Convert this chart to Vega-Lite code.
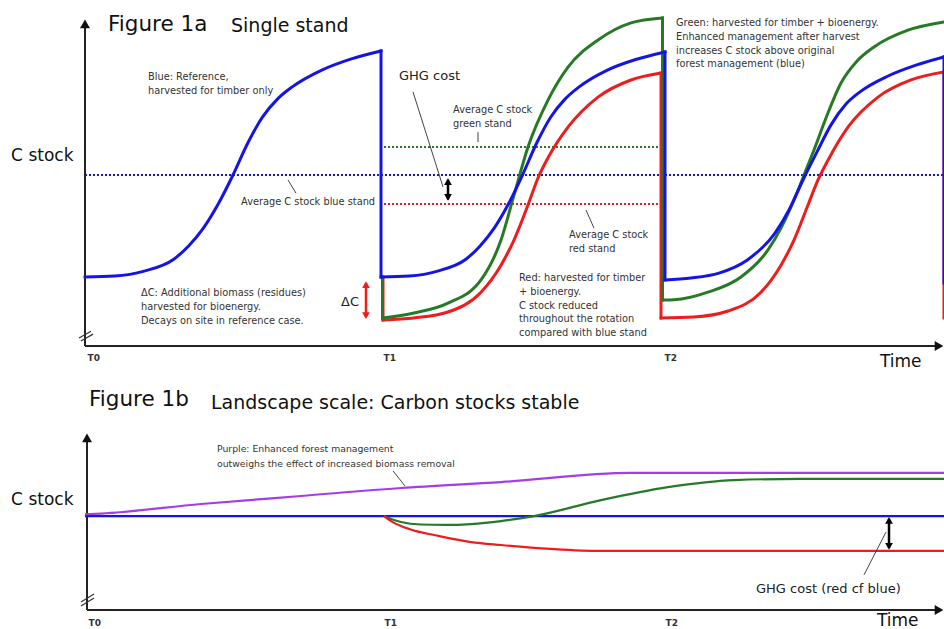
{
  "$schema": "https://vega.github.io/schema/vega-lite/v6.json",
  "background": "white",
  "padding": {"left": 10, "top": 10, "right": 0, "bottom": 0},
  "spacing": 13,
  "config": {
    "view": {"stroke": null},
    "font": "DejaVu Sans",
    "axis": {"grid": false, "domain": false, "ticks": false, "labelFont": "DejaVu Sans", "titleFont": "DejaVu Sans", "titleFontWeight": "normal", "titleColor": "#111", "labelColor": "#333"},
    "text": {"font": "DejaVu Sans"}
  },
  "datasets": {
    "stand": [
      {"s": "blue", "g": "b1", "x": 0, "c": 19.1}, {"s": "blue", "g": "b1", "x": 2.96, "c": 19.4}, {"s": "blue", "g": "b1", "x": 5.92, "c": 20.9}, {"s": "blue", "g": "b1", "x": 8.88, "c": 24.5}, {"s": "blue", "g": "b1", "x": 10.36, "c": 28.5}, {"s": "blue", "g": "b1", "x": 11.84, "c": 33.9}, {"s": "blue", "g": "b1", "x": 13.32, "c": 41.2}, {"s": "blue", "g": "b1", "x": 14.8, "c": 50.0}, {"s": "blue", "g": "b1", "x": 16.28, "c": 59.7}, {"s": "blue", "g": "b1", "x": 17.76, "c": 67.6}, {"s": "blue", "g": "b1", "x": 19.24, "c": 73.0}, {"s": "blue", "g": "b1", "x": 20.72, "c": 76.7}, {"s": "blue", "g": "b1", "x": 23.68, "c": 81.8}, {"s": "blue", "g": "b1", "x": 26.64, "c": 85.2}, {"s": "blue", "g": "b1", "x": 29.6, "c": 87.6},
      {"s": "blue", "g": "bd1", "x": 29.6, "c": 87.6}, {"s": "blue", "g": "bd1", "x": 29.6, "c": 19.1},
      {"s": "blue", "g": "b2", "x": 29.6, "c": 19.1}, {"s": "blue", "g": "b2", "x": 32.43, "c": 19.4}, {"s": "blue", "g": "b2", "x": 35.26, "c": 20.9}, {"s": "blue", "g": "b2", "x": 38.09, "c": 24.5}, {"s": "blue", "g": "b2", "x": 39.51, "c": 28.5}, {"s": "blue", "g": "b2", "x": 40.92, "c": 33.9}, {"s": "blue", "g": "b2", "x": 42.34, "c": 41.2}, {"s": "blue", "g": "b2", "x": 43.75, "c": 50.0}, {"s": "blue", "g": "b2", "x": 45.17, "c": 59.7}, {"s": "blue", "g": "b2", "x": 46.58, "c": 67.6}, {"s": "blue", "g": "b2", "x": 48.0, "c": 73.0}, {"s": "blue", "g": "b2", "x": 49.41, "c": 76.7}, {"s": "blue", "g": "b2", "x": 52.24, "c": 81.8}, {"s": "blue", "g": "b2", "x": 55.07, "c": 85.0}, {"s": "blue", "g": "b2", "x": 58.0, "c": 87.3},
      {"s": "blue", "g": "bd2", "x": 58.0, "c": 87.3}, {"s": "blue", "g": "bd2", "x": 58.0, "c": 18.2},
      {"s": "blue", "g": "b3", "x": 58.0, "c": 18.2}, {"s": "blue", "g": "b3", "x": 60.6, "c": 18.8}, {"s": "blue", "g": "b3", "x": 63.4, "c": 20.3}, {"s": "blue", "g": "b3", "x": 66.2, "c": 24.2}, {"s": "blue", "g": "b3", "x": 69.0, "c": 32.4}, {"s": "blue", "g": "b3", "x": 70.4, "c": 39.4}, {"s": "blue", "g": "b3", "x": 71.8, "c": 48.5}, {"s": "blue", "g": "b3", "x": 73.2, "c": 57.0}, {"s": "blue", "g": "b3", "x": 74.6, "c": 65.2}, {"s": "blue", "g": "b3", "x": 76.1, "c": 71.5}, {"s": "blue", "g": "b3", "x": 77.5, "c": 75.2}, {"s": "blue", "g": "b3", "x": 80.3, "c": 80.0}, {"s": "blue", "g": "b3", "x": 83.1, "c": 83.3}, {"s": "blue", "g": "b3", "x": 85.9, "c": 85.8},
      {"s": "blue", "g": "bd3", "x": 85.9, "c": 85.8}, {"s": "blue", "g": "bd3", "x": 85.9, "c": 17.3},
      {"s": "green", "g": "gd1", "x": 29.75, "c": 19.1}, {"s": "green", "g": "gd1", "x": 29.75, "c": 6.7},
      {"s": "green", "g": "g2", "x": 29.75, "c": 6.7}, {"s": "green", "g": "g2", "x": 32.9, "c": 8.2}, {"s": "green", "g": "g2", "x": 36.3, "c": 11.2}, {"s": "green", "g": "g2", "x": 39.6, "c": 18.2}, {"s": "green", "g": "g2", "x": 41.6, "c": 30.3}, {"s": "green", "g": "g2", "x": 42.9, "c": 43.9}, {"s": "green", "g": "g2", "x": 44.3, "c": 58.5}, {"s": "green", "g": "g2", "x": 46.3, "c": 72.7}, {"s": "green", "g": "g2", "x": 48.3, "c": 82.7}, {"s": "green", "g": "g2", "x": 51.3, "c": 90.9}, {"s": "green", "g": "g2", "x": 54.6, "c": 96.1}, {"s": "green", "g": "g2", "x": 57.75, "c": 97.6},
      {"s": "green", "g": "gd2", "x": 57.75, "c": 97.6}, {"s": "green", "g": "gd2", "x": 57.75, "c": 12.1},
      {"s": "green", "g": "g3", "x": 57.75, "c": 12.1}, {"s": "green", "g": "g3", "x": 58.9, "c": 12.2}, {"s": "green", "g": "g3", "x": 62.3, "c": 14.5}, {"s": "green", "g": "g3", "x": 65.6, "c": 19.1}, {"s": "green", "g": "g3", "x": 68.3, "c": 27.3}, {"s": "green", "g": "g3", "x": 69.6, "c": 33.9}, {"s": "green", "g": "g3", "x": 71.1, "c": 43.9}, {"s": "green", "g": "g3", "x": 72.1, "c": 51.5}, {"s": "green", "g": "g3", "x": 72.9, "c": 57.6}, {"s": "green", "g": "g3", "x": 74.1, "c": 67.3}, {"s": "green", "g": "g3", "x": 75.6, "c": 77.9}, {"s": "green", "g": "g3", "x": 77.1, "c": 84.2}, {"s": "green", "g": "g3", "x": 78.9, "c": 88.8}, {"s": "green", "g": "g3", "x": 82.3, "c": 93.9}, {"s": "green", "g": "g3", "x": 85.9, "c": 96.4},
      {"s": "red", "g": "rd1", "x": 29.8, "c": 19.1}, {"s": "red", "g": "rd1", "x": 29.8, "c": 6.1},
      {"s": "red", "g": "r2", "x": 29.8, "c": 6.1}, {"s": "red", "g": "r2", "x": 32.9, "c": 6.7}, {"s": "red", "g": "r2", "x": 36.3, "c": 8.5}, {"s": "red", "g": "r2", "x": 39.6, "c": 14.5}, {"s": "red", "g": "r2", "x": 41.6, "c": 22.7}, {"s": "red", "g": "r2", "x": 42.9, "c": 30.3}, {"s": "red", "g": "r2", "x": 44.3, "c": 40.9}, {"s": "red", "g": "r2", "x": 45.3, "c": 49.1}, {"s": "red", "g": "r2", "x": 46.3, "c": 55.2}, {"s": "red", "g": "r2", "x": 48.3, "c": 64.5}, {"s": "red", "g": "r2", "x": 51.3, "c": 73.6}, {"s": "red", "g": "r2", "x": 54.6, "c": 78.8}, {"s": "red", "g": "r2", "x": 57.6, "c": 80.9},
      {"s": "red", "g": "rd2", "x": 57.6, "c": 80.9}, {"s": "red", "g": "rd2", "x": 57.6, "c": 6.7},
      {"s": "red", "g": "r3", "x": 57.6, "c": 6.7}, {"s": "red", "g": "r3", "x": 60.9, "c": 7.0}, {"s": "red", "g": "r3", "x": 64.3, "c": 8.8}, {"s": "red", "g": "r3", "x": 67.6, "c": 14.5}, {"s": "red", "g": "r3", "x": 69.6, "c": 22.7}, {"s": "red", "g": "r3", "x": 70.9, "c": 30.3}, {"s": "red", "g": "r3", "x": 72.3, "c": 40.9}, {"s": "red", "g": "r3", "x": 73.3, "c": 48.5}, {"s": "red", "g": "r3", "x": 74.3, "c": 54.5}, {"s": "red", "g": "r3", "x": 76.3, "c": 64.5}, {"s": "red", "g": "r3", "x": 79.3, "c": 73.6}, {"s": "red", "g": "r3", "x": 82.6, "c": 78.8}, {"s": "red", "g": "r3", "x": 85.9, "c": 81.2},
      {"s": "red", "g": "rd3", "x": 85.9, "c": 81.2}, {"s": "red", "g": "rd3", "x": 85.9, "c": 6.7}
    ],
    "stand_avg": [
      {"s": "blue", "x": 0, "x2": 86, "c": 50.0},
      {"s": "green", "x": 29.9, "x2": 57.5, "c": 58.5},
      {"s": "red", "x": 29.9, "x2": 57.5, "c": 41.2}
    ],
    "stand_lines": [
      {"k": "axis", "x": 0, "x2": 0, "c": -1.8, "c2": 95},
      {"k": "axis", "x": 0, "x2": 85.2, "c": -1.8, "c2": -1.8},
      {"k": "brk", "x": -0.6, "x2": 0.6, "c": 0.6, "c2": 2.7},
      {"k": "brk", "x": -0.4, "x2": 0.8, "c": -0.3, "c2": 1.8},
      {"k": "lead", "x": 32.8, "x2": 35.8, "c": 75.2, "c2": 46.4},
      {"k": "lead", "x": 39.3, "x2": 39.3, "c": 63.0, "c2": 60.0},
      {"k": "lead", "x": 20.3, "x2": 21.1, "c": 48.5, "c2": 44.5},
      {"k": "lead", "x": 50.1, "x2": 50.9, "c": 39.4, "c2": 33.9},
      {"k": "ghg", "x": 36.3, "x2": 36.3, "c": 48.6, "c2": 42.6},
      {"k": "dc", "x": 28.1, "x2": 28.1, "c": 17.3, "c2": 7.0}
    ],
    "stand_heads": [
      {"k": "axis", "dir": "up", "x": 0, "c": 95.8},
      {"k": "axis", "dir": "right", "x": 85.4, "c": -1.8},
      {"k": "ghg", "dir": "up", "x": 36.3, "c": 48.0},
      {"k": "ghg", "dir": "down", "x": 36.3, "c": 43.2},
      {"k": "dc", "dir": "up", "x": 28.1, "c": 16.8},
      {"k": "dc", "dir": "down", "x": 28.1, "c": 7.4}
    ],
    "stand_notes": [
      {"x": 6.3, "c": 81.2, "t": "Blue: Reference,\nharvested for timber only"},
      {"x": 15.6, "c": 43.3, "t": "Average C stock blue stand"},
      {"x": 36.8, "c": 71.2, "t": "Average C stock\ngreen stand"},
      {"x": 48.4, "c": 33.3, "t": "Average C stock\nred  stand"},
      {"x": 43.4, "c": 20.3, "t": "Red: harvested for timber\n+ bioenergy.\nC stock reduced\nthroughout the rotation\ncompared with blue stand"},
      {"x": 59.1, "c": 97.6, "t": "Green: harvested for timber + bioenergy.\nEnhanced management after harvest\nincreases C stock above original\nforest management (blue)"},
      {"x": 5.6, "c": 15.8, "t": "ΔC: Additional biomass (residues)\nharvested for bioenergy.\nDecays on site in reference case."}
    ],
    "stand_mid": [
      {"x": 31.4, "c": 80.0, "t": "GHG cost"},
      {"x": 25.6, "c": 11.5, "t": "ΔC"}
    ],
    "land": [
      {"s": "blue", "x": 0, "c": 41.2}, {"s": "blue", "x": 86, "c": 41.2},
      {"s": "purple", "x": 0, "c": 42.0}, {"s": "purple", "x": 1.6, "c": 42.3}, {"s": "purple", "x": 11.6, "c": 46.5}, {"s": "purple", "x": 21.6, "c": 50.0}, {"s": "purple", "x": 31.6, "c": 53.5}, {"s": "purple", "x": 41.6, "c": 56.1}, {"s": "purple", "x": 54.6, "c": 60.1}, {"s": "purple", "x": 86, "c": 60.1},
      {"s": "green", "x": 29.9, "c": 41.2}, {"s": "green", "x": 30.6, "c": 39.9}, {"s": "green", "x": 31.6, "c": 38.6}, {"s": "green", "x": 33.6, "c": 37.5}, {"s": "green", "x": 36.1, "c": 37.3}, {"s": "green", "x": 38.6, "c": 37.7}, {"s": "green", "x": 41.6, "c": 39.0}, {"s": "green", "x": 44.9, "c": 41.2}, {"s": "green", "x": 51.6, "c": 48.2}, {"s": "green", "x": 58.3, "c": 53.9}, {"s": "green", "x": 64.9, "c": 57.0}, {"s": "green", "x": 71.6, "c": 57.5}, {"s": "green", "x": 86, "c": 57.5},
      {"s": "red", "x": 29.9, "c": 41.2}, {"s": "red", "x": 30.6, "c": 39.0}, {"s": "red", "x": 31.6, "c": 36.8}, {"s": "red", "x": 33.1, "c": 34.6}, {"s": "red", "x": 34.9, "c": 32.9}, {"s": "red", "x": 38.6, "c": 29.8}, {"s": "red", "x": 41.6, "c": 28.5}, {"s": "red", "x": 46.6, "c": 26.8}, {"s": "red", "x": 51.6, "c": 25.9}, {"s": "red", "x": 86, "c": 25.9}
    ],
    "land_lines": [
      {"k": "axis", "x": 0.2, "x2": 0.2, "c": 0, "c2": 75},
      {"k": "axis", "x": 0.2, "x2": 85.2, "c": 0, "c2": 0},
      {"k": "brk", "x": -0.4, "x2": 0.9, "c": 3.5, "c2": 7.0},
      {"k": "brk", "x": -0.4, "x2": 0.9, "c": 1.75, "c2": 5.3},
      {"k": "lead", "x": 30.8, "x2": 32.0, "c": 61.0, "c2": 54.4},
      {"k": "lead", "x": 80.1, "x2": 77.9, "c": 34.2, "c2": 15.4},
      {"k": "ghg", "x": 80.4, "x2": 80.4, "c": 39.9, "c2": 27.2}
    ],
    "land_heads": [
      {"k": "axis", "dir": "up", "x": 0.2, "c": 75.5},
      {"k": "axis", "dir": "right", "x": 85.4, "c": 0},
      {"k": "ghg", "dir": "up", "x": 80.4, "c": 39.3},
      {"k": "ghg", "dir": "down", "x": 80.4, "c": 27.9}
    ],
    "land_notes": [
      {"x": 13.2, "c": 72.4, "t": "Purple: Enhanced forest management\noutweighs the effect of increased biomass removal"}
    ],
    "land_mid": [
      {"x": 67.1, "c": 9.2, "t": "GHG cost (red cf blue)"}
    ]
  },
  "vconcat": [
    {
      "width": 860,
      "height": 336,
      "encoding": {
        "x": {"field": "x", "type": "quantitative", "scale": {"domain": [0, 86], "nice": false, "zero": false},
          "axis": {"values": [0, 29.6, 57.7], "labelExpr": "datum.value < 10 ? 'T0' : (datum.value < 40 ? 'T1' : 'T2')", "labelAlign": "left", "labelOffset": 2, "labelPadding": 7, "labelFontSize": 9, "labelFontWeight": "bold", "title": "Time", "titleFontSize": 17, "titleAlign": "right", "titleBaseline": "middle", "titleX": 836, "titleY": 15}},
        "y": {"field": "c", "type": "quantitative", "scale": {"domain": [-1.8, 100], "nice": false, "zero": false},
          "axis": {"title": "C stock", "labels": false, "titleAngle": 0, "titleAlign": "right", "titleBaseline": "middle", "titleX": -12, "titleY": 145, "titleFontSize": 17}}
      },
      "layer": [
        {"data": {"name": "stand_lines"}, "transform": [{"filter": "datum.k == 'axis'"}], "mark": {"type": "rule", "color": "#222", "strokeWidth": 2}, "encoding": {"x2": {"field": "x2"}, "y2": {"field": "c2"}}},
        {"data": {"name": "stand_lines"}, "transform": [{"filter": "datum.k == 'brk'"}], "mark": {"type": "rule", "color": "#333", "strokeWidth": 1.2}, "encoding": {"x2": {"field": "x2"}, "y2": {"field": "c2"}}},
        {"data": {"name": "stand_heads"}, "transform": [{"filter": "datum.k == 'axis'"}], "mark": {"type": "point", "filled": true, "color": "#111", "size": 100, "opacity": 1}, "encoding": {"shape": {"field": "dir", "type": "nominal", "scale": {"domain": ["up", "down", "right"], "range": ["triangle-up", "triangle-down", "triangle-right"]}, "legend": null}}},
        {"data": {"name": "stand_avg"}, "mark": {"type": "rule", "strokeDash": [2, 2], "strokeWidth": 2}, "encoding": {"x2": {"field": "x2"}, "color": {"field": "s", "type": "nominal", "scale": {"domain": ["blue", "green", "red", "purple"], "range": ["#1414e6", "#267a26", "#ee1c1c", "#a43de8"]}, "legend": null}}},
        {"data": {"name": "stand"}, "transform": [{"filter": "datum.s == 'red'"}], "mark": {"type": "line", "interpolate": "monotone", "strokeWidth": 3, "strokeCap": "square"}, "encoding": {"detail": {"field": "g"}, "color": {"field": "s", "type": "nominal", "legend": null}}},
        {"data": {"name": "stand"}, "transform": [{"filter": "datum.s == 'green'"}], "mark": {"type": "line", "interpolate": "monotone", "strokeWidth": 3, "strokeCap": "square"}, "encoding": {"detail": {"field": "g"}, "color": {"field": "s", "type": "nominal", "legend": null}}},
        {"data": {"name": "stand"}, "transform": [{"filter": "datum.s == 'blue'"}], "mark": {"type": "line", "interpolate": "monotone", "strokeWidth": 3, "strokeCap": "square"}, "encoding": {"detail": {"field": "g"}, "color": {"field": "s", "type": "nominal", "legend": null}}},
        {"data": {"name": "stand_lines"}, "transform": [{"filter": "datum.k == 'lead'"}], "mark": {"type": "rule", "color": "#444", "strokeWidth": 1}, "encoding": {"x2": {"field": "x2"}, "y2": {"field": "c2"}}},
        {"data": {"name": "stand_lines"}, "transform": [{"filter": "datum.k == 'ghg'"}], "mark": {"type": "rule", "color": "#000", "strokeWidth": 2.5}, "encoding": {"x2": {"field": "x2"}, "y2": {"field": "c2"}}},
        {"data": {"name": "stand_lines"}, "transform": [{"filter": "datum.k == 'dc'"}], "mark": {"type": "rule", "color": "#ee1c1c", "strokeWidth": 2.5}, "encoding": {"x2": {"field": "x2"}, "y2": {"field": "c2"}}},
        {"data": {"name": "stand_heads"}, "transform": [{"filter": "datum.k == 'ghg'"}], "mark": {"type": "point", "filled": true, "color": "#000", "size": 60, "opacity": 1}, "encoding": {"shape": {"field": "dir", "type": "nominal", "legend": null}}},
        {"data": {"name": "stand_heads"}, "transform": [{"filter": "datum.k == 'dc'"}], "mark": {"type": "point", "filled": true, "color": "#ee1c1c", "size": 60, "opacity": 1}, "encoding": {"shape": {"field": "dir", "type": "nominal", "legend": null}}},
        {"data": {"name": "stand_notes"}, "mark": {"type": "text", "align": "left", "baseline": "top", "fontSize": 9.8, "lineHeight": 13.8, "lineBreak": "\n", "color": "#333"}, "encoding": {"text": {"field": "t"}}},
        {"data": {"name": "stand_mid"}, "mark": {"type": "text", "align": "left", "baseline": "middle", "fontSize": 13, "color": "#222"}, "encoding": {"text": {"field": "t"}}},
        {"data": {"values": [{"x": 2.3, "c": 95.5, "t": "Figure 1a"}]}, "mark": {"type": "text", "align": "left", "baseline": "middle", "fontSize": 21.5, "color": "#111"}, "encoding": {"text": {"field": "t"}}},
        {"data": {"values": [{"x": 14.6, "c": 95.2, "t": "Single stand"}]}, "mark": {"type": "text", "align": "left", "baseline": "middle", "fontSize": 19, "color": "#111"}, "encoding": {"text": {"field": "t"}}}
      ]
    },
    {
      "width": 860,
      "height": 228,
      "encoding": {
        "x": {"field": "x", "type": "quantitative", "scale": {"domain": [0, 86], "nice": false, "zero": false},
          "axis": {"values": [0, 29.6, 57.7], "labelExpr": "datum.value < 10 ? 'T0' : (datum.value < 40 ? 'T1' : 'T2')", "labelAlign": "left", "labelOffset": 3, "labelPadding": 8, "labelFontSize": 9, "labelFontWeight": "bold", "title": "Time", "titleFontSize": 17, "titleAlign": "right", "titleBaseline": "middle", "titleX": 833, "titleY": 10}},
        "y": {"field": "c", "type": "quantitative", "scale": {"domain": [0, 100], "nice": false, "zero": false},
          "axis": {"title": "C stock", "labels": false, "titleAngle": 0, "titleAlign": "right", "titleBaseline": "middle", "titleX": -12, "titleY": 117, "titleFontSize": 17}}
      },
      "layer": [
        {"data": {"name": "land_lines"}, "transform": [{"filter": "datum.k == 'axis'"}], "mark": {"type": "rule", "color": "#222", "strokeWidth": 2}, "encoding": {"x2": {"field": "x2"}, "y2": {"field": "c2"}}},
        {"data": {"name": "land_lines"}, "transform": [{"filter": "datum.k == 'brk'"}], "mark": {"type": "rule", "color": "#333", "strokeWidth": 1.2}, "encoding": {"x2": {"field": "x2"}, "y2": {"field": "c2"}}},
        {"data": {"name": "land_heads"}, "transform": [{"filter": "datum.k == 'axis'"}], "mark": {"type": "point", "filled": true, "color": "#111", "size": 100, "opacity": 1}, "encoding": {"shape": {"field": "dir", "type": "nominal", "scale": {"domain": ["up", "down", "right"], "range": ["triangle-up", "triangle-down", "triangle-right"]}, "legend": null}}},
        {"data": {"name": "land"}, "transform": [{"filter": "datum.s == 'blue'"}], "mark": {"type": "line", "interpolate": "monotone", "strokeWidth": 2.2}, "encoding": {"color": {"field": "s", "type": "nominal", "scale": {"domain": ["blue", "green", "red", "purple"], "range": ["#1414e6", "#267a26", "#ee1c1c", "#a43de8"]}, "legend": null}}},
        {"data": {"name": "land"}, "transform": [{"filter": "datum.s != 'blue'"}], "mark": {"type": "line", "interpolate": "monotone", "strokeWidth": 2.2}, "encoding": {"color": {"field": "s", "type": "nominal", "legend": null}}},
        {"data": {"name": "land_lines"}, "transform": [{"filter": "datum.k == 'lead'"}], "mark": {"type": "rule", "color": "#444", "strokeWidth": 1}, "encoding": {"x2": {"field": "x2"}, "y2": {"field": "c2"}}},
        {"data": {"name": "land_lines"}, "transform": [{"filter": "datum.k == 'ghg'"}], "mark": {"type": "rule", "color": "#000", "strokeWidth": 2.5}, "encoding": {"x2": {"field": "x2"}, "y2": {"field": "c2"}}},
        {"data": {"name": "land_heads"}, "transform": [{"filter": "datum.k == 'ghg'"}], "mark": {"type": "point", "filled": true, "color": "#000", "size": 60, "opacity": 1}, "encoding": {"shape": {"field": "dir", "type": "nominal", "legend": null}}},
        {"data": {"name": "land_notes"}, "mark": {"type": "text", "align": "left", "baseline": "top", "fontSize": 9.3, "lineHeight": 15, "lineBreak": "\n", "color": "#333"}, "encoding": {"text": {"field": "t"}}},
        {"data": {"name": "land_mid"}, "mark": {"type": "text", "align": "left", "baseline": "middle", "fontSize": 13, "color": "#222"}, "encoding": {"text": {"field": "t"}}},
        {"data": {"values": [{"x": 0.4, "c": 92.1, "t": "Figure 1b"}]}, "mark": {"type": "text", "align": "left", "baseline": "middle", "fontSize": 21.5, "color": "#111"}, "encoding": {"text": {"field": "t"}}},
        {"data": {"values": [{"x": 12.6, "c": 90.8, "t": "Landscape scale: Carbon stocks stable"}]}, "mark": {"type": "text", "align": "left", "baseline": "middle", "fontSize": 19, "color": "#111"}, "encoding": {"text": {"field": "t"}}}
      ]
    }
  ]
}
